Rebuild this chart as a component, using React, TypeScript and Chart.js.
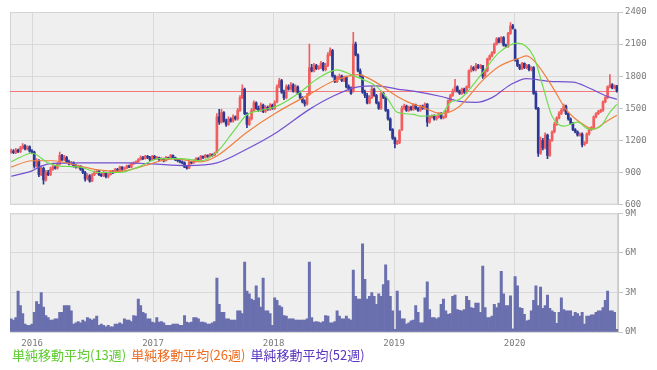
import React, { useEffect, useRef } from 'react';
import { Chart, registerables } from 'chart.js';
Chart.register(...registerables);

// Weekly data, first week starting 2015-10-26
const firstWeekUTC = Date.UTC(2015, 9, 26);
const yearLabels = ['2016', '2017', '2018', '2019', '2020'];
const priceTicks = [600, 900, 1200, 1500, 1800, 2100, 2400];
const volumeTicks = [0, 3, 6, 9];
const referencePrice = 1660;

const opens = [
  1090,1100,1085,1110,1095,1130,1150,1120,1140,1100,
  1090,960,1010,880,940,830,900,880,930,950,
  940,980,1060,1020,1040,1000,980,990,960,950,
  960,930,900,840,870,820,880,900,910,880,
  870,900,860,880,910,900,930,920,950,930,
  940,960,950,980,990,1000,1020,1040,1030,1050,
  1040,1020,1050,1030,1040,1020,1030,1010,1040,1030,
  1060,1040,1020,1010,1000,990,950,940,1000,990,
  1010,1030,1020,1050,1040,1060,1050,1070,1060,1090,
  1420,1370,1460,1380,1350,1400,1380,1420,1400,1480,
  1600,1680,1450,1350,1400,1480,1550,1500,1480,1530,
  1470,1510,1490,1530,1500,1560,1700,1760,1650,1600,
  1700,1680,1720,1660,1700,1640,1600,1560,1540,1630,
  1880,1850,1900,1870,1880,1920,1860,1900,2000,2040,
  1800,1750,1780,1800,1760,1790,1700,1680,1660,2100,
  2000,1850,1800,1650,1620,1550,1600,1680,1620,1550,
  1500,1640,1600,1480,1400,1300,1220,1170,1180,1300,
  1500,1520,1480,1510,1490,1530,1500,1480,1520,1500,
  1540,1370,1420,1430,1400,1420,1450,1410,1420,1470,
  1570,1620,1660,1700,1660,1640,1680,1650,1700,1850,
  1880,1860,1900,1880,1900,1800,1850,1960,1990,2020,
  2100,2150,2120,2160,2090,2080,2200,2270,2230,1950,
  1900,1870,1920,1880,1900,1860,1880,1640,1500,1080,
  1200,1130,1250,1060,1200,1280,1350,1410,1450,1480,
  1520,1450,1400,1360,1300,1280,1250,1260,1160,1180,
  1260,1300,1320,1420,1450,1470,1480,1560,1600,1700,
  1720,1690,1710,
];
const highs = [
  1120,1115,1125,1120,1145,1170,1160,1150,1150,1115,
  1100,1030,1020,960,950,920,920,950,970,965,
  990,1090,1070,1060,1050,1015,1005,1000,975,970,
  965,940,910,890,880,890,915,925,920,890,
  910,905,890,920,920,940,940,960,955,950,
  970,970,990,1000,1010,1030,1055,1050,1060,1060,
  1050,1060,1060,1050,1045,1040,1035,1050,1045,1070,
  1065,1045,1030,1020,1010,1000,965,1010,1005,1020,
  1040,1040,1060,1055,1070,1065,1080,1075,1090,1450,
  1490,1490,1470,1400,1420,1410,1440,1430,1500,1620,
  1720,1690,1460,1420,1500,1570,1560,1520,1550,1540,
  1525,1520,1545,1540,1570,1720,1780,1770,1670,1720,
  1720,1740,1730,1720,1710,1660,1610,1580,1640,2100,
  1910,1920,1910,1900,1940,1930,1920,2020,2065,2050,
  1810,1800,1820,1810,1800,1800,1720,1700,2210,2120,
  2010,1870,1810,1670,1640,1620,1700,1690,1630,1560,
  1660,1650,1610,1490,1410,1310,1230,1200,1300,1520,
  1540,1530,1520,1520,1545,1540,1510,1530,1530,1550,
  1545,1430,1440,1440,1430,1460,1460,1430,1480,1580,
  1630,1680,1770,1710,1670,1690,1690,1710,1860,1900,
  1890,1920,1910,1910,1900,1860,1970,2000,2030,2110,
  2160,2160,2170,2170,2100,2210,2300,2285,2240,1960,
  1910,1930,1925,1910,1910,1890,1890,1660,1510,1230,
  1220,1270,1260,1210,1290,1370,1420,1470,1500,1540,
  1530,1460,1410,1370,1310,1290,1270,1270,1190,1270,
  1310,1330,1430,1460,1480,1490,1570,1610,1710,1815,
  1730,1720,1715,
];
const lows = [
  1080,1075,1075,1085,1085,1120,1110,1110,1090,1075,
  940,950,860,870,790,820,870,870,920,930,
  930,970,1010,1010,990,970,970,950,940,940,
  920,890,820,830,810,815,870,890,870,860,
  860,850,850,875,890,895,910,915,920,925,
  935,945,945,975,985,995,1015,1020,1025,1030,
  1010,1015,1020,1025,1010,1015,1000,1005,1020,1025,
  1030,1010,1000,990,980,945,930,935,980,985,
  1000,1010,1015,1030,1035,1040,1045,1050,1055,1080,
  1350,1360,1370,1330,1340,1370,1370,1390,1390,1470,
  1590,1440,1320,1340,1390,1470,1490,1470,1470,1460,
  1460,1480,1480,1490,1490,1550,1690,1640,1580,1590,
  1670,1670,1650,1650,1630,1590,1550,1520,1530,1620,
  1840,1840,1860,1860,1870,1850,1850,1890,1990,1790,
  1740,1740,1770,1750,1750,1690,1670,1630,1650,1990,
  1840,1790,1640,1600,1540,1540,1590,1610,1540,1490,
  1490,1590,1470,1390,1290,1210,1130,1160,1170,1290,
  1490,1470,1470,1480,1480,1490,1470,1470,1490,1490,
  1330,1360,1410,1390,1390,1410,1400,1400,1410,1460,
  1560,1610,1650,1650,1630,1630,1640,1640,1690,1840,
  1850,1850,1870,1870,1780,1790,1840,1950,1980,2010,
  2090,2110,2110,2080,2070,2070,2190,2240,1940,1890,
  1860,1860,1870,1870,1850,1850,1630,1490,1050,1070,
  1110,1120,1030,1050,1190,1270,1340,1400,1440,1470,
  1440,1390,1350,1290,1270,1240,1240,1140,1150,1170,
  1250,1290,1310,1410,1440,1460,1470,1550,1590,1690,
  1680,1680,1650,
];
const closes = [
  1100,1085,1110,1095,1130,1150,1120,1140,1100,1090,
  960,1010,880,940,830,900,880,930,950,940,
  980,1060,1020,1040,1000,980,990,960,950,960,
  930,900,840,870,820,880,900,910,880,870,
  900,860,880,910,900,930,920,950,930,940,
  960,950,980,990,1000,1020,1040,1030,1050,1040,
  1020,1050,1030,1040,1020,1030,1010,1040,1030,1060,
  1040,1020,1010,1000,990,950,940,1000,990,1010,
  1030,1020,1050,1040,1060,1050,1070,1060,1080,1420,
  1370,1460,1380,1350,1400,1380,1420,1400,1480,1600,
  1680,1450,1350,1400,1480,1550,1500,1480,1530,1470,
  1510,1490,1530,1500,1550,1700,1760,1650,1600,1700,
  1680,1720,1660,1700,1640,1600,1560,1540,1620,1880,
  1850,1900,1870,1880,1920,1860,1900,2000,2040,1800,
  1750,1780,1800,1760,1790,1700,1680,1640,2100,2000,
  1850,1800,1650,1620,1550,1600,1680,1620,1550,1500,
  1640,1600,1480,1400,1300,1220,1170,1180,1290,1500,
  1520,1480,1510,1490,1530,1500,1480,1520,1500,1540,
  1370,1420,1430,1400,1420,1450,1410,1420,1470,1570,
  1620,1660,1700,1660,1640,1680,1650,1700,1850,1880,
  1860,1900,1880,1900,1800,1850,1960,1990,2020,2100,
  2150,2120,2160,2090,2080,2200,2270,2250,1950,1900,
  1870,1920,1880,1900,1860,1880,1640,1500,1080,1200,
  1130,1250,1060,1200,1280,1350,1410,1450,1480,1520,
  1450,1400,1360,1300,1280,1250,1260,1160,1180,1260,
  1300,1320,1420,1450,1470,1480,1560,1600,1700,1720,
  1690,1710,1660,
];
// weekly volume, millions of shares
const volumes = [
  1.0,0.9,1.1,3.1,2.0,1.4,0.6,0.5,0.5,0.6,
  1.5,2.3,2.1,3.0,1.9,1.25,1.1,0.9,0.9,1.0,
  1.0,1.5,1.5,2.0,2.0,2.0,1.6,0.6,0.7,0.8,
  0.7,0.9,0.8,1.1,1.0,0.9,1.0,1.2,0.5,0.6,
  0.5,0.4,0.5,0.4,0.4,0.6,0.6,0.7,0.6,1.0,
  0.9,0.9,0.8,1.25,1.2,2.5,2.0,1.5,1.4,1.0,
  1.0,0.75,0.7,1.1,0.75,0.8,0.7,0.5,0.5,0.5,
  0.6,0.6,0.6,0.5,0.5,1.25,0.75,0.7,0.75,1.1,
  1.1,1.0,0.75,0.75,0.7,0.6,0.6,0.7,0.8,4.1,
  2.1,1.5,1.5,1.0,1.0,0.9,0.9,0.9,1.6,1.6,
  1.4,5.3,3.1,2.9,2.5,2.4,3.5,2.6,1.9,4.1,
  1.6,1.6,1.4,0.5,2.6,2.4,2.0,1.9,1.25,1.2,
  1.0,1.0,1.0,0.9,0.9,0.9,0.9,0.9,1.0,5.3,
  1.1,0.75,0.8,0.75,0.7,0.8,1.25,1.2,0.7,0.7,
  0.8,1.6,1.2,1.0,1.0,1.2,1.0,0.9,4.7,2.7,
  2.5,2.5,6.7,4.0,2.5,2.7,3.0,2.7,2.1,2.9,
  2.7,3.6,5.1,3.9,2.7,1.6,0.2,3.1,1.6,1.0,
  1.0,0.6,0.7,0.85,0.9,2.0,1.5,0.7,0.7,2.6,
  3.8,1.7,1.1,1.1,1.0,1.1,2.1,2.5,1.6,1.35,
  1.4,2.7,2.8,1.7,1.65,1.6,1.7,2.7,2.4,1.85,
  1.8,2.2,2.2,1.5,5.0,1.85,1.1,1.1,1.2,2.1,
  1.85,2.2,4.6,2.9,2.0,2.0,2.75,0.25,4.2,3.5,
  1.85,1.8,1.35,0.85,0.9,1.6,2.4,3.5,2.0,3.4,
  1.8,2.0,2.8,1.8,1.6,1.5,0.65,1.5,2.6,1.7,
  1.6,1.6,1.6,1.2,1.5,1.4,1.2,1.5,0.6,1.2,
  1.2,1.3,1.3,1.5,1.6,1.6,1.85,2.4,3.1,1.6,
  1.6,1.5,0.2,
];

// Moving averages (week index, value)
const ma13Weeks = [0,9,16,21,26,30,38,47,56,64,73,82,89,96,102,108,115,125,132,141,147,152,158,163,167,174,177,186,190,194,204,211,219,226,230,234,239,245,250,255,259,262];
const ma13 = [1000,1080,990,960,955,950,900,900,960,1030,1030,1010,1090,1280,1440,1480,1520,1650,1770,1860,1815,1770,1705,1584,1463,1444,1426,1444,1555,1584,1834,2020,2110,1985,1705,1426,1333,1370,1305,1333,1463,1537];
const ma26Weeks = [0,9,18,28,36,47,56,70,82,89,102,115,129,139,150,158,167,174,177,186,194,203,211,220,223,227,234,240,246,252,257,262];
const ma26 = [950,1010,1010,970,930,910,953,1027,1000,1055,1277,1463,1630,1750,1815,1740,1610,1537,1520,1450,1520,1740,1890,1970,1990,1925,1705,1490,1370,1305,1370,1435];
const ma52Weeks = [0,9,13,18,30,50,61,76,89,102,115,129,139,150,158,167,174,186,194,201,208,216,223,234,243,250,258,262];
const ma52 = [865,915,960,985,990,990,980,965,990,1120,1277,1490,1610,1700,1710,1680,1660,1610,1565,1555,1600,1720,1778,1750,1745,1690,1610,1584];

const weekCount = closes.length;
const yearPositions = yearLabels.map(
  (y) => (Date.UTC(Number(y), 0, 1) - firstWeekUTC) / (7 * 86400000)
);

const UP = '#f25e5e';
const DOWN = '#2c3893';
const GRID = '#d9d9d9';
const TICK_FONT = { family: '"DejaVu Sans Mono", monospace', size: 9 };
const TICK_COLOR = '#7a7a7a';
const C13 = '#6edc4c';
const C26 = '#f08040';
const C52 = '#7452cf';

const areaPlugin = {
  id: 'areaBg',
  beforeDraw(chart: any) {
    const { ctx, chartArea: a } = chart;
    ctx.save();
    ctx.fillStyle = '#efefef';
    ctx.fillRect(a.left, a.top, a.right - a.left, a.bottom - a.top);
    ctx.restore();
  },
  beforeDatasetsDraw(chart: any) {
    const { ctx, chartArea: a } = chart;
    ctx.save();
    ctx.strokeStyle = '#d4d4d4';
    ctx.lineWidth = 1;
    ctx.strokeRect(a.left + 0.5, a.top + 0.5, a.right - a.left - 1, a.bottom - a.top - 1);
    ctx.restore();
  },
};

const refLinePlugin = {
  id: 'refLine',
  beforeDatasetsDraw(chart: any) {
    const { ctx, chartArea: a, scales } = chart;
    const y = Math.round(scales.y.getPixelForValue(referencePrice)) + 0.5;
    ctx.save();
    ctx.strokeStyle = '#f47a7a';
    ctx.lineWidth = 1;
    ctx.beginPath();
    ctx.moveTo(a.left, y);
    ctx.lineTo(a.right, y);
    ctx.stroke();
    ctx.restore();
  },
};

const yearTicks = (s: any) => {
  s.ticks = yearPositions.map((v) => ({ value: v }));
};

export default function App() {
  const priceRef = useRef<HTMLCanvasElement>(null);
  const volRef = useRef<HTMLCanvasElement>(null);

  useEffect(() => {
    const isUp = closes.map((c, i) => c >= opens[i]);
    const colors = isUp.map((u) => (u ? UP : DOWN));
    const maLine = (weeks: number[], vals: number[], color: string, label: string) => ({
      type: 'line' as const,
      label,
      data: weeks.map((w, k) => ({ x: w + 0.5, y: vals[k] })),
      borderColor: color,
      borderWidth: 1.2,
      pointRadius: 0,
      cubicInterpolationMode: 'monotone' as const,
      order: 0,
    });

    const price = new Chart(priceRef.current!, {
      type: 'bar',
      data: {
        datasets: [
          maLine(ma13Weeks, ma13, C13, '13'),
          maLine(ma26Weeks, ma26, C26, '26'),
          maLine(ma52Weeks, ma52, C52, '52'),
          {
            type: 'bar',
            label: 'wick',
            data: lows.map((l, i) => ({ x: i + 0.5, y: [l, highs[i]] })) as any,
            backgroundColor: colors,
            barThickness: 1,
            grouped: false,
            order: 2,
          },
          {
            type: 'bar',
            label: 'body',
            data: opens.map((o, i) => ({ x: i + 0.5, y: [o, closes[i]] })) as any,
            backgroundColor: colors,
            barThickness: 2,
            grouped: false,
            order: 1,
          },
        ] as any,
      },
      options: {
        animation: false,
        responsive: true,
        maintainAspectRatio: false,
        devicePixelRatio: 1,
        events: [],
        layout: { padding: { left: 10, top: 12, right: 0, bottom: 6 } },
        plugins: { legend: { display: false }, tooltip: { enabled: false } },
        scales: {
          x: {
            type: 'linear',
            offset: false,
            min: 0,
            max: weekCount,
            afterBuildTicks: yearTicks,
            afterFit: (s: any) => { s.height = 0; },
            ticks: { display: false },
            grid: { color: GRID, drawTicks: false, offset: false },
            border: { display: false },
          },
          y: {
            position: 'right',
            min: priceTicks[0],
            max: priceTicks[priceTicks.length - 1],
            afterBuildTicks: (s: any) => { s.ticks = priceTicks.map((v) => ({ value: v })); },
            afterFit: (s: any) => { s.width = 39; },
            ticks: { font: TICK_FONT, color: TICK_COLOR, padding: 2, callback: (v: any) => String(v) },
            grid: { color: GRID, tickLength: 5, tickColor: '#c8c8c8' },
            border: { color: '#c8c8c8' },
          },
        } as any,
      },
      plugins: [areaPlugin, refLinePlugin],
    });

    const vol = new Chart(volRef.current!, {
      type: 'bar',
      data: {
        datasets: [
          {
            label: 'volume',
            data: volumes.map((v, i) => ({ x: i + 0.5, y: v })),
            backgroundColor: '#6a6fae',
            barPercentage: 1,
            categoryPercentage: 1,
          },
        ],
      },
      options: {
        animation: false,
        responsive: true,
        maintainAspectRatio: false,
        devicePixelRatio: 1,
        events: [],
        layout: { padding: { left: 10, top: 7, right: 0, bottom: 14 } },
        plugins: { legend: { display: false }, tooltip: { enabled: false } },
        scales: {
          x: {
            type: 'linear',
            offset: false,
            min: 0,
            max: weekCount,
            afterBuildTicks: yearTicks,
            afterFit: (s: any) => { s.height = 24; },
            ticks: {
              font: TICK_FONT,
              color: TICK_COLOR,
              padding: 6,
              maxRotation: 0,
              autoSkip: false,
              callback: (_v: any, idx: number) => yearLabels[idx],
            },
            grid: { color: GRID, drawTicks: false, offset: false },
            border: { display: false },
          },
          y: {
            position: 'right',
            min: volumeTicks[0],
            max: volumeTicks[volumeTicks.length - 1],
            afterBuildTicks: (s: any) => { s.ticks = volumeTicks.map((v) => ({ value: v })); },
            afterFit: (s: any) => { s.width = 39; },
            ticks: { font: TICK_FONT, color: TICK_COLOR, padding: 2, callback: (v: any) => v + 'M' },
            grid: { color: GRID, tickLength: 5, tickColor: '#c8c8c8' },
            border: { color: '#c8c8c8' },
          },
        } as any,
      },
      plugins: [areaPlugin],
    });

    return () => {
      price.destroy();
      vol.destroy();
    };
  }, []);

  return (
    <div style={{ position: 'fixed', left: 0, top: 0, width: 657, height: 370, background: '#fff', overflow: 'hidden' }}>
      <div style={{ position: 'absolute', left: 0, top: 0, width: 657, height: 212 }}>
        <canvas ref={priceRef} />
      </div>
      <div style={{ position: 'absolute', left: 0, top: 206, width: 657, height: 164 }}>
        <canvas ref={volRef} />
      </div>
      <div
        style={{
          position: 'absolute',
          left: 12,
          top: 347,
          fontFamily: '"Noto Sans CJK JP", sans-serif',
          fontSize: 13,
          lineHeight: '16px',
          whiteSpace: 'nowrap',
        }}
      >
        <span style={{ color: '#5ccc2e', marginRight: 5 }}>単純移動平均(13週)</span>
        <span style={{ color: '#ee6a1e', marginRight: 5 }}>単純移動平均(26週)</span>
        <span style={{ color: '#5a36c0' }}>単純移動平均(52週)</span>
      </div>
    </div>
  );
}
